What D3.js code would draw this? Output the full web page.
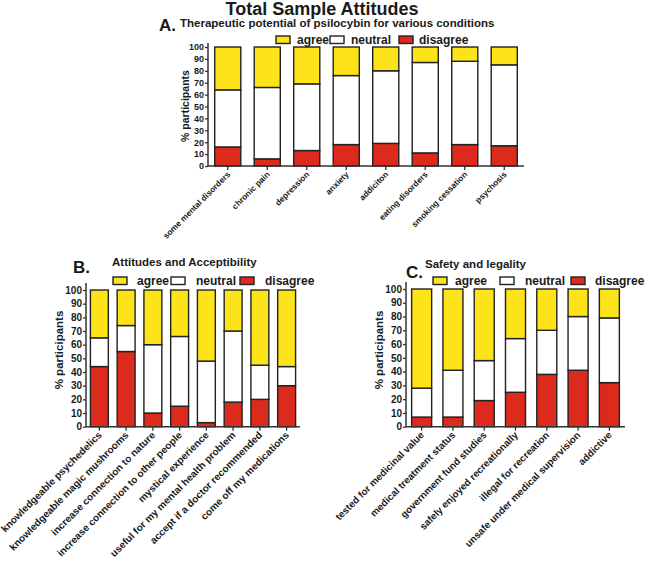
<!DOCTYPE html>
<html><head><meta charset="utf-8">
<script src="https://cdn.jsdelivr.net/npm/d3@7"></script>
<style>body{margin:0;background:#fff}svg{display:block}text{font-family:"Liberation Sans",Arial,sans-serif;fill:#1a1a1a}</style>
</head><body>
<svg id="c" width="645" height="562"></svg>
<script>
// ---- data ----
const seriesNames = ["agree", "neutral", "disagree"];
const yTicks = [0,10,20,30,40,50,60,70,80,90,100];

const catsA = ["some mental disorders","chronic pain","depression","anxiety","addiciton","eating disorders","smoking cessation","psychosis"];
const disagreeA = [16, 6, 13, 18, 19, 11, 18, 17];
const neutralA  = [48, 60, 56, 58, 61, 76, 70, 68];
const agreeA    = [36, 34, 31, 24, 20, 13, 12, 15];

const catsB = ["knowledgeable psychedelics","knowledgeable magic mushrooms","increase connection to nature","increase connection to other people","mystical experience","useful for my mental health problem","accept if a doctor recommended","come off my medications"];
const disagreeB = [44, 55, 10, 15, 3, 18, 20, 30];
const neutralB  = [21, 19, 50, 51, 45, 52, 25, 14];
const agreeB    = [35, 26, 40, 34, 52, 30, 55, 56];

const catsC = ["tested for medicinal value","medical treatment status","government fund studies","safely enjoyed recreationally","illegal for recreation","unsafe under medical supervision","addictive"];
const disagreeC = [7, 7, 19, 25, 38, 41, 32];
const neutralC  = [21, 34, 29, 39, 32, 39, 47];
const agreeC    = [72, 59, 52, 36, 30, 20, 21];

const colors = {agree:"#fde31a", neutral:"#ffffff", disagree:"#dc2a1d"};
const svg = d3.select("#c");

svg.append("text").attr("x",322).attr("y",14.5).attr("text-anchor","middle")
  .style("font-size","18px").style("font-weight","bold").text("Total Sample Attitudes");

function panel(o){
  const g = svg.append("g");
  const data = o.cats.map((c,i)=>({cat:c, disagree:o.dis[i], neutral:o.neu[i], agree:o.agr[i]}));
  const x = d3.scaleBand().domain(o.cats).range([o.x0,o.x1]).paddingInner(o.pad).paddingOuter(o.pad/2);
  const y = d3.scaleLinear().domain([0,100]).range([o.y0,o.y1]);
  const stack = d3.stack().keys(["disagree","neutral","agree"])(data);
  stack.forEach(s=>{
    g.selectAll(null).data(s).enter().append("rect")
      .attr("x",d=>x(d.data.cat)).attr("width",x.bandwidth())
      .attr("y",d=>y(d[1])).attr("height",d=>y(d[0])-y(d[1]))
      .attr("fill",colors[s.key]).attr("stroke","#222").attr("stroke-width",1.4);
  });
  // y axis
  const ya = g.append("g").attr("transform",`translate(${o.x0},0)`)
    .call(d3.axisLeft(y).tickValues(yTicks).tickSize(3).tickPadding(1));
  ya.select(".domain").remove();
  ya.append("line").attr("x1",0).attr("x2",0).attr("y1",y(0)).attr("y2",y(100)-o.over)
    .attr("stroke","#333").attr("stroke-width",1.5);
  ya.selectAll(".tick line").attr("stroke","#333").attr("stroke-width",1.3);
  ya.selectAll(".tick text").style("font-size",o.tfs+"px").style("font-weight","bold").attr("fill","#1a1a1a");
  // x axis
  const xa = g.append("g").attr("transform",`translate(0,${o.y0})`)
    .call(d3.axisBottom(x).tickSize(4).tickFormat(""));
  xa.select(".domain").remove();
  xa.append("line").attr("x1",o.x0).attr("x2",o.x1).attr("stroke","#333").attr("stroke-width",1.5);
  xa.selectAll(".tick line").attr("stroke","#333").attr("stroke-width",1.3);
  g.selectAll(null).data(o.cats).enter().append("text")
    .attr("transform",d=>`translate(${x(d)+x.bandwidth()/2+o.lx},${o.y0+o.ly}) rotate(-45)`)
    .attr("text-anchor","end").style("font-size",o.xfs+"px").style("font-weight","bold").text(d=>d);
  // y label
  g.append("text").attr("transform",`translate(${o.ylx},${o.yly}) rotate(-90)`)
    .attr("text-anchor","middle").style("font-size",o.ylfs+"px").style("font-weight","bold").text("% participants");
  // letter & title
  g.append("text").attr("x",o.letter[0]).attr("y",o.letter[1]).style("font-size","17px").style("font-weight","bold").text(o.letterText);
  g.append("text").attr("x",o.title[0]).attr("y",o.title[1]).style("font-size",o.title[2]+"px").style("font-weight","bold").text(o.titleText);
  // legend
  seriesNames.forEach((s,i)=>{
    const L = o.leg[i];
    g.append("rect").attr("x",L[0]).attr("y",o.legY).attr("width",14).attr("height",7.5)
      .attr("fill",colors[s]).attr("stroke","#222").attr("stroke-width",1.4);
    g.append("text").attr("x",L[1]).attr("y",o.legY+8).style("font-size",o.lfs+"px").style("font-weight","bold").text(s);
  });
}

panel({cats:catsA, dis:disagreeA, neu:neutralA, agr:agreeA,
  x0:208, x1:524, y0:166, y1:47, pad:0.34, over:4, tfs:9, xfs:8.3, lx:3, ly:9,
  ylx:189, yly:106, ylfs:10.5,
  letter:[159,30.5], letterText:"A.", title:[180,27,11.5], titleText:"Therapeutic potential of psilocybin for various conditions",
  leg:[[276,297],[330,351],[399,419]], legY:36, lfs:12});

panel({cats:catsB, dis:disagreeB, neu:neutralB, agr:agreeB,
  x0:86, x1:300, y0:426.7, y1:290, pad:0.33, over:7, tfs:10, xfs:10, lx:3, ly:9,
  ylx:63, yly:350, ylfs:11.5,
  letter:[73,273], letterText:"B.", title:[112,266,11.5], titleText:"Attitudes and Acceptibility",
  leg:[[113,137],[171,196],[240,265]], legY:277, lfs:12});

panel({cats:catsC, dis:disagreeC, neu:neutralC, agr:agreeC,
  x0:406, x1:625, y0:426.7, y1:289, pad:0.36, over:7, tfs:10, xfs:9.8, lx:3, ly:9,
  ylx:383, yly:350, ylfs:11.5,
  letter:[406,278], letterText:"C.", title:[425,268,11.5], titleText:"Safety and legality",
  leg:[[433,455],[500,525],[571,595]], legY:277, lfs:12});
</script>
</body></html>
